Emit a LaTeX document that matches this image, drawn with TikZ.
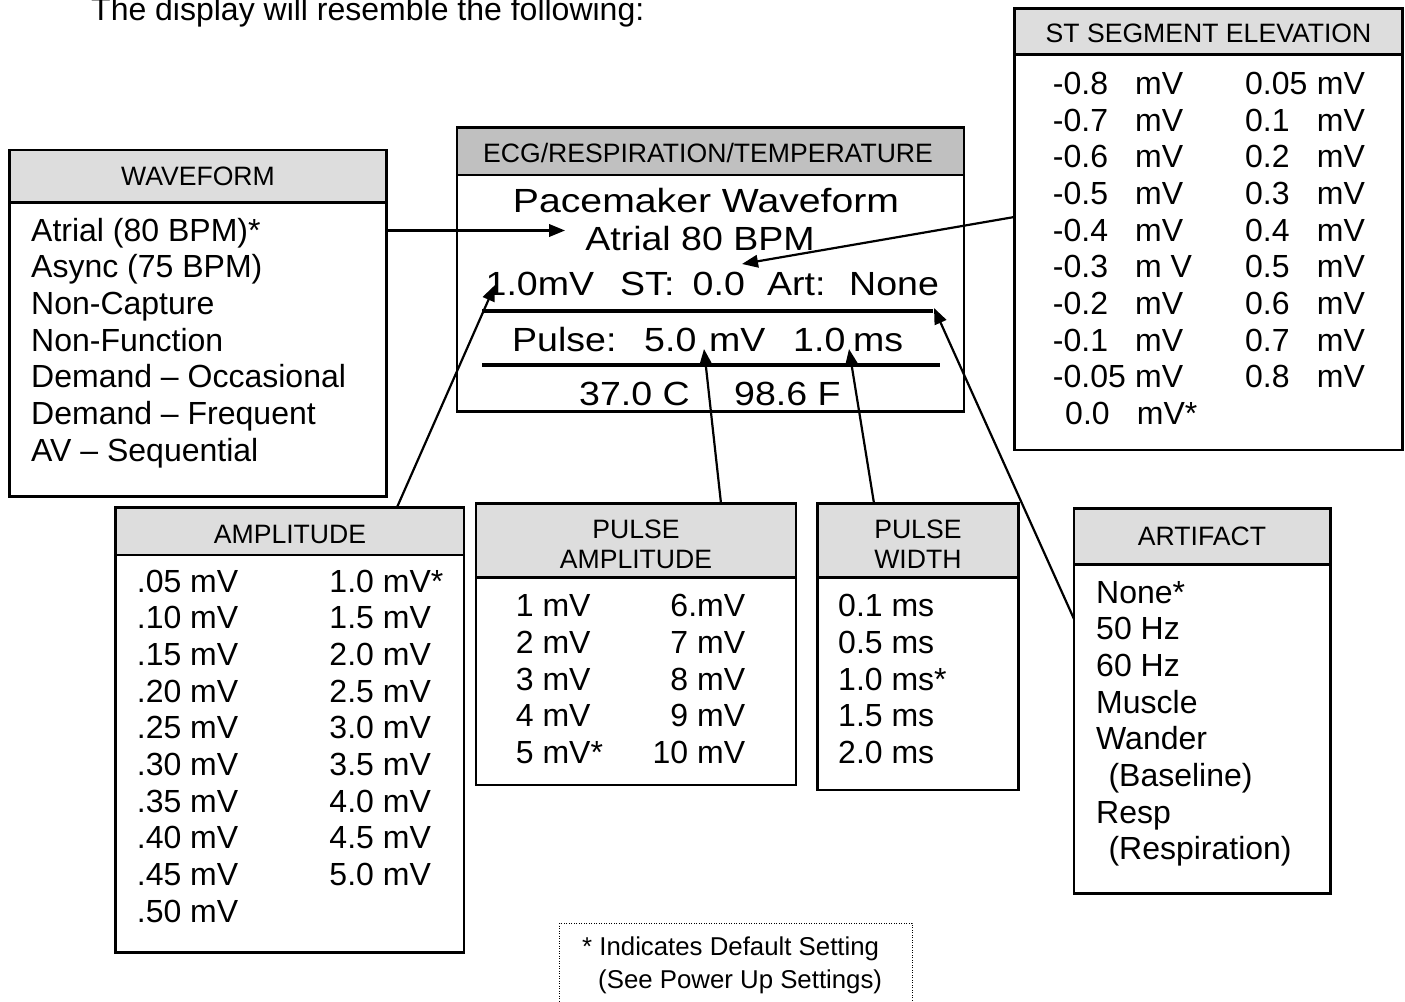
\documentclass[tikz,border=0pt]{standalone}
\usepackage{fontspec}
\setmainfont{Liberation Sans}
\newfontfamily\lcdfont[FakeStretch=1.12]{Liberation Sans}
\usepackage{array}
\usepackage{graphicx}
\usetikzlibrary{arrows.meta,calc}
\definecolor{hdrlight}{RGB}{221,221,221}
\definecolor{hdrdark}{RGB}{192,192,192}
\newcommand{\listfont}{\fontsize{32}{36.7}\selectfont}
\newcommand{\hdrfont}{\fontsize{26.6}{30}\selectfont}
\newcommand{\notefont}{\fontsize{25.8}{31}\selectfont}
\newcommand{\lcdtext}{\lcdfont\fontsize{33.5}{40}\selectfont}
\begin{document}
\begin{tikzpicture}[x=1pt,y=-1pt,
  box/.style={draw, line width=2.5pt, inner sep=0pt, outer sep=0pt, anchor=north west, rectangle},
  hdrbox/.style={box, fill=hdrlight},
  hdrtext/.style={anchor=base, inner sep=0pt, font=\hdrfont},
  listtext/.style={anchor=base west, inner sep=0pt, font=\listfont},
  lcd/.style={anchor=base west, inner sep=0pt, font=\lcdtext},
  conn/.style={line width=2.2pt, -{Triangle[length=16pt,width=12.5pt]}},
  divider/.style={line width=4pt},
]
\useasboundingbox (0,0) rectangle (1405,1001);

% intro text
\node[listtext] (intro) at (91,20) {The display will resemble the following:};

% ---------------- WAVEFORM ----------------
\node[box, minimum width=377.4pt, minimum height=346.7pt] (wave) at (9.3,150) {};
\node[hdrbox, minimum width=377.4pt, minimum height=52.7pt] (waveh) at (9.3,150) {};
\node[hdrtext] (wavet) at (198,185.7) {WAVEFORM};
\node[listtext] (wavelist) at (31,241) {\begin{tabular}[t]{@{}l@{}}
Atrial (80 BPM)*\\
Async (75 BPM)\\
Non-Capture\\
Non-Function\\
Demand – Occasional\\
Demand – Frequent\\
AV – Sequential
\end{tabular}};

% ---------------- ECG display ----------------
\node[box, minimum width=507pt, minimum height=284.2pt] (ecg) at (457,127.3) {};
\node[box, fill=hdrdark, minimum width=507pt, minimum height=47.7pt] (ecgh) at (457,127.3) {};
\node[hdrtext] (ecgt) at (708,162.7) {ECG/RESPIRATION/TEMPERATURE};
\node[lcd, anchor=base] (lcd1) at (706,212) {\resizebox{386pt}{\height}{Pacemaker Waveform}};
\node[lcd, anchor=base] (lcd2) at (700,250) {Atrial 80 BPM};
\node[lcd] (lcdamp) at (485.5,295) {1.0mV};
\node[lcd] (lcdst) at (620,295) {ST:};
\node[lcd] (lcdstv) at (692.5,295) {0.0};
\node[lcd] (lcdart) at (767,295) {Art:};
\node[lcd] (lcdartv) at (849,295) {None};
\coordinate (d1a) at (482,311);
\coordinate (d1b) at (933,311);
\draw[divider] (d1a) -- (d1b);
\node[lcd] (lcdp) at (512,351) {Pulse:};
\node[lcd] (lcdpa) at (644,351) {5.0};
\node[lcd] (lcdpau) at (709,351) {mV};
\node[lcd] (lcdpw) at (793,351) {1.0};
\node[lcd] (lcdpwu) at (853,351) {ms};
\coordinate (d2a) at (482,365);
\coordinate (d2b) at (940,365);
\draw[divider] (d2a) -- (d2b);
\node[lcd] (lcdc) at (579,405) {37.0 C};
\node[lcd] (lcdf) at (734,405) {98.6 F};

% ---------------- ST SEGMENT ----------------
\node[box, minimum width=388.4pt, minimum height=441.7pt] (st) at (1014.3,8.3) {};
\node[hdrbox, minimum width=388.4pt, minimum height=46pt] (sth) at (1014.3,8.3) {};
\node[hdrtext] (stt) at (1208.5,42.7) {ST SEGMENT ELEVATION};
\node[listtext] (stlist) at (1052.7,94.3) {\begin{tabular}[t]{@{}p{82.3pt}@{}p{110pt}@{}p{71.7pt}@{}l@{}}
-0.8 & mV & 0.05 & mV\\
-0.7 & mV & 0.1 & mV\\
-0.6 & mV & 0.2 & mV\\
-0.5 & mV & 0.3 & mV\\
-0.4 & mV & 0.4 & mV\\
-0.3 & m V & 0.5 & mV\\
-0.2 & mV & 0.6 & mV\\
-0.1 & mV & 0.7 & mV\\
-0.05 & mV & 0.8 & mV\\
\hspace*{12.3pt}0.0 & \hspace*{1.7pt}mV* & &
\end{tabular}};

% ---------------- AMPLITUDE ----------------
\node[box, minimum width=348.3pt, minimum height=445.4pt] (amp) at (115.7,507.3) {};
\node[hdrbox, minimum width=348.3pt, minimum height=47.7pt] (amph) at (115.7,507.3) {};
\node[hdrtext] (ampt) at (290,543.3) {AMPLITUDE};
\node[listtext] (amplist) at (136.7,592) {\begin{tabular}[t]{@{}p{192.6pt}@{}l@{}}
.05 mV & 1.0 mV*\\
.10 mV & 1.5 mV\\
.15 mV & 2.0 mV\\
.20 mV & 2.5 mV\\
.25 mV & 3.0 mV\\
.30 mV & 3.5 mV\\
.35 mV & 4.0 mV\\
.40 mV & 4.5 mV\\
.45 mV & 5.0 mV\\
.50 mV &
\end{tabular}};

% ---------------- PULSE AMPLITUDE ----------------
\node[box, minimum width=320pt, minimum height=281.7pt] (pa) at (476,503.3) {};
\node[hdrbox, minimum width=320pt, minimum height=74.4pt] (pah) at (476,503.3) {};
\node[hdrtext] (pat) at (636,538.3) {\begin{tabular}[t]{@{}c@{}}PULSE\\AMPLITUDE\end{tabular}};
\node[listtext] (palist) at (515.7,616.7) {\begin{tabular}[t]{@{}p{229.3pt}@{}l@{}}
1 mV & \llap{6.mV}\\
2 mV & \llap{7 mV}\\
3 mV & \llap{8 mV}\\
4 mV & \llap{9 mV}\\
5 mV* & \llap{10 mV}
\end{tabular}};

% ---------------- PULSE WIDTH ----------------
\node[box, minimum width=200.8pt, minimum height=286.7pt] (pw) at (817.5,503.3) {};
\node[hdrbox, minimum width=200.8pt, minimum height=74.4pt] (pwh) at (817.5,503.3) {};
\node[hdrtext] (pwt) at (917.9,538.3) {\begin{tabular}[t]{@{}c@{}}PULSE\\WIDTH\end{tabular}};
\node[listtext] (pwlist) at (838,616.7) {\begin{tabular}[t]{@{}l@{}}
0.1 ms\\
0.5 ms\\
1.0 ms*\\
1.5 ms\\
2.0 ms
\end{tabular}};

% ---------------- ARTIFACT ----------------
\node[box, minimum width=256.7pt, minimum height=385pt] (art) at (1074,508.3) {};
\node[hdrbox, minimum width=256.7pt, minimum height=56.3pt] (arth) at (1074,508.3) {};
\node[hdrtext] (artt) at (1202,545) {ARTIFACT};
\node[listtext] (artlist) at (1096,603) {\begin{tabular}[t]{@{}l@{}}
None*\\
50 Hz\\
60 Hz\\
Muscle\\
Wander\\
\hspace*{12.3pt}(Baseline)\\
Resp\\
\hspace*{12.3pt}(Respiration)
\end{tabular}};

% ---------------- note ----------------
\node[draw, dash pattern=on 1.1pt off 1.4pt, line width=1.2pt, anchor=north west, inner sep=0pt,
      minimum width=352.5pt, minimum height=110pt] (note) at (559,922.5) {};
\node[anchor=base west, inner sep=0pt, font=\notefont] (note1) at (582,955) {* Indicates Default Setting};
\node[anchor=base west, inner sep=0pt, font=\notefont] (note2) at (598,988) {(See Power Up Settings)};

% ---------------- connectors ----------------
\coordinate (tipWave) at (565,230.5);
\coordinate (tipST) at (742,264);
\coordinate (tipAmp) at (495,285);
\coordinate (tipPA) at (704,349);
\coordinate (tipPW) at (849,349);
\coordinate (tipArt) at (934,308);
\coordinate (stY) at (0,217);
\coordinate (ampX) at (397,0);
\coordinate (paX) at (721,0);
\coordinate (pwX) at (874,0);
\coordinate (artY) at (0,619);

\draw[conn] (wave.east |- tipWave) -- (tipWave);
\draw[conn] (st.west |- stY) -- (tipST);
\draw[conn] (ampX |- amp.north) -- (tipAmp);
\draw[conn] (paX |- pa.north) -- (tipPA);
\draw[conn] (pwX |- pw.north) -- (tipPW);
\draw[conn] (art.west |- artY) -- (tipArt);
\end{tikzpicture}
\end{document}
